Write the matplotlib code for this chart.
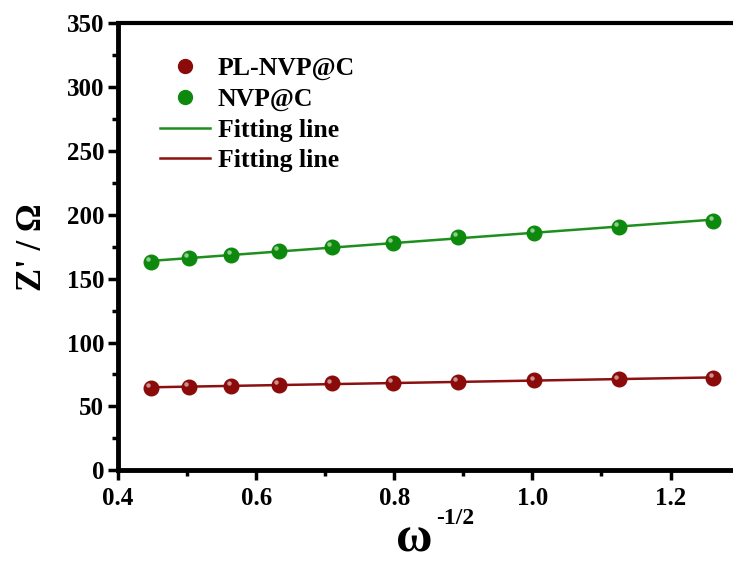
import numpy as np
import matplotlib
matplotlib.use("Agg")
import matplotlib.pyplot as plt
from matplotlib.lines import Line2D
from matplotlib.transforms import offset_copy

# ---- data ----
omega_inv_sqrt = [0.4477, 0.5025, 0.5642, 0.6325, 0.7096, 0.7979, 0.8920, 1.0025, 1.1247, 1.2616]
z_nvp = [163.0, 166.0, 168.5, 171.5, 174.7, 178.0, 183.0, 186.0, 190.5, 195.5]
z_pl_nvp = [64.5, 65.3, 66.0, 67.0, 68.0, 68.5, 69.2, 70.3, 71.2, 72.5]
xticks = [0.4, 0.6, 0.8, 1.0, 1.2]
yticks = [0, 50, 100, 150, 200, 250, 300, 350]

green = "#0d8a0d"
red = "#8b0a0a"
line_green = "#1e8f1e"
line_red = "#8b1010"

plt.rcParams['font.family'] = ['Liberation Serif', 'DejaVu Serif']
plt.rcParams['font.weight'] = 'bold'

fig = plt.figure(figsize=(7.33, 5.63), dpi=100)
ax = fig.add_axes([0.161, 0.1647, 0.848, 0.794])

x = np.array(omega_inv_sqrt)
for yv, lc, mc in [(z_nvp, line_green, green), (z_pl_nvp, line_red, red)]:
    yv = np.array(yv)
    k, b = np.polyfit(x, yv, 1)
    xx = np.array([x.min(), x.max()])
    ax.plot(xx, k * xx + b, color=lc, lw=1.8, zorder=2)
    ax.plot(x, yv, 'o', color=mc, ms=10.5, mec=mc, zorder=3)
    hl = offset_copy(ax.transData, fig=fig, x=-1.8, y=2.0, units='points')
    ax.plot(x, yv, 'o', color='white', alpha=0.55, ms=3.2, mew=0, transform=hl, zorder=4)

ax.set_xlim(0.4, 1.3)
ax.set_ylim(0, 350)
ax.set_xticks(xticks)
ax.set_yticks(yticks)
ax.set_xticks(np.arange(0.5, 1.3, 0.2), minor=True)
ax.set_yticks(np.arange(25, 350, 50), minor=True)
ax.set_xticklabels([f"{v:.1f}" for v in xticks])
ax.tick_params(axis='both', which='major', direction='out', length=7, width=2.5,
               labelsize=18)
ax.tick_params(axis='y', which='major', pad=3)
ax.tick_params(axis='x', which='major', pad=5)
ax.tick_params(axis='both', which='minor', direction='out', length=4, width=2.5)
ax.tick_params(top=False, right=False)
for lab in ax.get_xticklabels() + ax.get_yticklabels():
    lab.set_fontweight('bold')

for s in ['left', 'bottom']:
    ax.spines[s].set_linewidth(3.5)
ax.spines['top'].set_linewidth(3)
ax.spines['right'].set_visible(False)

ax.set_ylabel("Z' / Ω", fontsize=25, fontweight='bold', labelpad=13)
fig.text(414 / 733, 1 - 551 / 563, "ω", ha='center', va='baseline',
         fontsize=36, fontweight='bold')
fig.text(436 / 733, 1 - 524 / 563, "-1/2", ha='left', va='baseline',
         fontsize=17, fontweight='bold')

handles = [
    Line2D([], [], ls='none', marker='o', color=red, ms=10),
    Line2D([], [], ls='none', marker='o', color=green, ms=10),
    Line2D([], [], color=line_green, lw=1.8),
    Line2D([], [], color=line_red, lw=1.8),
]
labels = ["PL-NVP@C", "NVP@C", "Fitting line", "Fitting line"]
ax.legend(handles, labels, loc='upper left', bbox_to_anchor=(0.0676, 0.925),
          frameon=False, prop={'size': 18.5, 'weight': 'bold'},
          handlelength=1.95, handletextpad=0.3, labelspacing=0.3, borderaxespad=0,
          borderpad=0)

fig.savefig("out.png", dpi=100)
